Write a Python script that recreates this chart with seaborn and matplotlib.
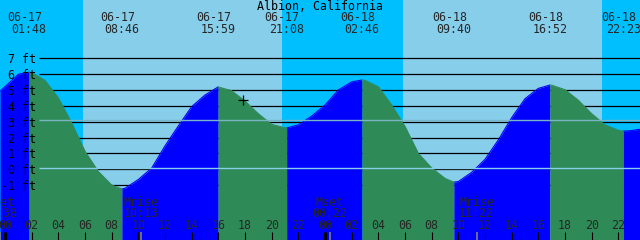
import numpy as np
import pandas as pd
import matplotlib
matplotlib.use("Agg")
import matplotlib.pyplot as plt
import seaborn as sns

# ---------------- data (hours since 06-17 00:00, heights in feet) ----------------
title = "Albion, California"

tide_hours = [-0.375, 0, 1, 1.8, 2, 3, 4, 5, 6, 7, 8, 8.767, 9, 10, 11, 12, 13, 14, 15,
              15.983, 16, 17, 18, 19, 20, 21, 21.133, 22, 23, 24, 25, 26, 26.767, 27, 28,
              29, 30, 31, 32, 33, 33.667, 34, 35, 36, 37, 38, 39, 40, 40.867, 41, 42, 43,
              44, 45, 46, 46.383, 47, 47.625]
tide_feet = [4.92, 5.21, 5.99, 6.12, 6.10, 5.60, 4.50, 2.92, 1.13, -0.15, -1.00, -1.25, -1.21,
             -0.65, 0.07, 1.47, 2.73, 3.95, 4.68,
             5.19, 5.19, 4.95, 4.30, 3.50, 2.83, 2.62, 2.60, 2.80, 3.35, 4.05, 5.00, 5.51, 5.63,
             5.61, 5.20,
             4.05, 2.70, 1.00, 0.08, -0.58, -0.82, -0.78, -0.20, 0.62, 1.85, 3.25, 4.45, 5.10,
             5.31, 5.30, 5.02, 4.35,
             3.50, 2.80, 2.45, 2.40, 2.44, 2.52]

extreme_hours = [1.8, 8.767, 15.983, 21.133, 26.767, 33.667, 40.867, 46.383]
extreme_dates = ["06-17", "06-17", "06-17", "06-17", "06-18", "06-18", "06-18", "06-18"]
extreme_times = ["01:48", "08:46", "15:59", "21:08", "02:46", "09:40", "16:52", "22:23"]

sunrise_hours = [5.85, 29.85]
sunset_hours = [20.78, 44.78]

moon_hours = [-0.367, 10.217, 24.367, 35.367]
moon_events = ["Mset", "Mrise", "Mset", "Mrise"]
moon_times = ["23:38", "10:13", "00:22", "11:22"]

grid_levels = [7, 6, 5, 4, 3, 2, 1, 0, -1]
grid_labels = ["7 ft", "6 ft", "5 ft", "4 ft", "3 ft", "2 ft", "1 ft", "0 ft", "-1 ft"]
ref_levels = [3.09, 0.05]
ref_colors = ["#78B4C4", "#87CEEB"]

tick_hours = list(range(0, 49, 2))
tick_labels = ["%02d" % (h % 24) for h in tick_hours]
midnight_hours = [0, 24]

now_hour = 17.85
now_feet = 4.37

# ---------------- styling ----------------
sns.set_theme(style="white")
plt.rcParams["font.family"] = ["DejaVu Sans Mono", "DejaVu Sans"]
FS = 8.4
W, H = 640, 240
XMIN, XMAX = -0.375, 47.625
YMIN, YMAX = -4.47, 10.68

DAY = "#87CEEB"
NIGHT = "#00BFFF"
RISE = "#0000FF"
FALL = "#2E8B57"

fig = plt.figure(figsize=(6.4, 2.4), dpi=100)
ax = fig.add_axes([0, 0, 1, 1])
ax.set_xlim(XMIN, XMAX)
ax.set_ylim(YMIN, YMAX)
ax.axis("off")

def xfrac(px):
    return px / W

def yfrac(py):
    return 1 - py / H

# day / night background
ax.axvspan(XMIN, XMAX, color=NIGHT, lw=0, zorder=0)
for r, s in zip(sunrise_hours, sunset_hours):
    ax.axvspan(r, s, color=DAY, lw=0, zorder=0.5)

# horizontal grid lines (behind the tide)
line_start = XMIN + (39 / W) * (XMAX - XMIN)
for lv in grid_levels:
    ax.hlines(lv, line_start, XMAX, color="black", lw=0.9, zorder=1)

# tide segments: blue while rising, green while falling
hrs = np.array(tide_hours)
fts = np.array(tide_feet)
cut_idx = [0] + [int(np.argmin(np.abs(hrs - e))) for e in extreme_hours] + [len(hrs) - 1]
rows = []
for k in range(len(cut_idx) - 1):
    a, b = cut_idx[k], cut_idx[k + 1]
    seg_h = hrs[a:b + 1]
    seg_f = fts[a:b + 1]
    phase = "rising" if seg_f[-1] > seg_f[0] else "falling"
    ax.fill_between(seg_h, seg_f, YMIN, color=RISE if phase == "rising" else FALL,
                    lw=0, zorder=2)
    for hh, ff in zip(seg_h, seg_f):
        rows.append({"hour": hh, "feet": ff, "phase": phase, "seg": k})
df = pd.DataFrame(rows)
sns.lineplot(data=df, x="hour", y="feet", hue="phase", units="seg", estimator=None,
             palette={"rising": RISE, "falling": FALL}, lw=0.8, legend=False,
             ax=ax, zorder=2.5)
ax.set_xlim(XMIN, XMAX)
ax.set_ylim(YMIN, YMAX)
ax.axis("off")

# reference lines over the tide
for lv, c in zip(ref_levels, ref_colors):
    ax.hlines(lv, line_start, XMAX, color=c, lw=1.0, zorder=3)

# y labels
for lv, lab in zip(grid_levels, grid_labels):
    ax.text(xfrac(36), lv, lab, transform=ax.get_yaxis_transform(), ha="right",
            va="center_baseline", fontsize=FS, color="black", zorder=5)

# current time marker
ax.plot([now_hour], [now_feet], marker="+", ms=7.5, mew=0.9, color="black", zorder=6)

xt = ax.get_xaxis_transform()
# title
ax.text(0.5, yfrac(6), title, transform=ax.transAxes, ha="center", va="center",
        fontsize=FS, color="black", zorder=6)
# high / low labels
for h, d, t in zip(extreme_hours, extreme_dates, extreme_times):
    ax.text(h - 0.34, yfrac(17.5), d, transform=xt, ha="center", va="center",
            fontsize=FS, zorder=6)
    ax.text(h, yfrac(29.5), t, transform=xt, ha="center", va="center",
            fontsize=FS, zorder=6)

# moon labels
for h, ev, t in zip(moon_hours, moon_events, moon_times):
    ax.text(h, yfrac(202), ev, transform=xt, ha="center", va="center", fontsize=FS, zorder=6)
    ax.text(h, yfrac(213.5), t, transform=xt, ha="center", va="center", fontsize=FS, zorder=6)
    ax.vlines(h, yfrac(240), yfrac(232), transform=xt, color="#808080", lw=1.2, zorder=6)

# hour ticks
for h, lab in zip(tick_hours, tick_labels):
    ax.text(h, yfrac(225.5), lab, transform=xt, ha="center", va="center", fontsize=FS, zorder=6)
    ax.vlines(h, yfrac(240), yfrac(232), transform=xt, color="black", lw=0.8, zorder=6)
for h in midnight_hours:
    ax.vlines(h, yfrac(240), yfrac(232), transform=xt, color="black", lw=2.4, zorder=6)

fig.savefig("out.png", dpi=100)
